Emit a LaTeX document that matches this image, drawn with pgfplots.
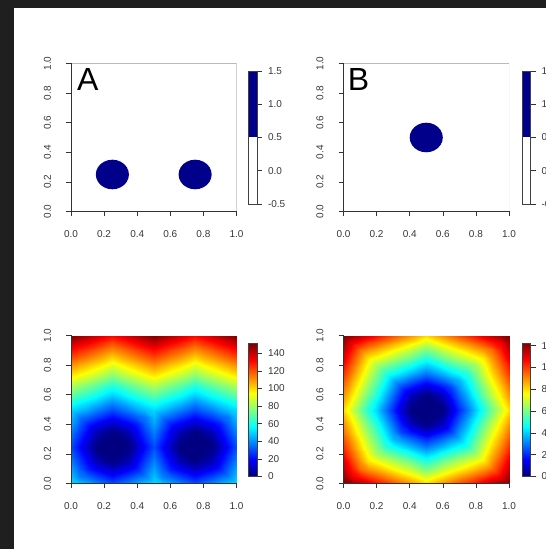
\documentclass[border=0pt]{standalone}
\usepackage{fontspec}
\setmainfont{Liberation Sans}
\usepackage{pgfplots}
\pgfplotsset{compat=1.18}
\definecolor{frame}{RGB}{31,31,31}
\definecolor{patch}{RGB}{0,0,139}
\definecolor{labgray}{RGB}{55,55,55}
\pgfplotsset{
  panel/.style={
    scale only axis, width=165.5pt, height=148pt,
    axis lines*=left, axis line style={-, black!80, line width=0.6pt},
    tick align=outside, major tick length=5pt,
    tick style={black!80, line width=0.6pt},
    tick label style={font=\fontsize{10}{11}\selectfont, text=labgray},
    yticklabel style={rotate=90, anchor=south},
    xticklabel style={anchor=north},
    xticklabel shift=10.5pt, yticklabel shift=11.5pt,
    axis on top,
  },
  unitpanel/.style={panel, xmin=0, xmax=1, ymin=0, ymax=1,
    xtick={0,0.2,0.4,0.6,0.8,1}, ytick={0,0.2,0.4,0.6,0.8,1},
    xticklabels={0.0,0.2,0.4,0.6,0.8,1.0}, yticklabels={0.0,0.2,0.4,0.6,0.8,1.0}},
  gridpanel/.style={panel, xmin=0, xmax=20, ymin=0, ymax=20,
    xtick={0,4,8,12,16,20}, ytick={0,4,8,12,16,20},
    xticklabels={0.0,0.2,0.4,0.6,0.8,1.0}, yticklabels={0.0,0.2,0.4,0.6,0.8,1.0},
    colormap/jet},
  cbar/.style={
    scale only axis, width=9pt, height=133pt,
    xmin=0, xmax=1, xtick=\empty,
    axis line style={black!75, line width=0.5pt},
    ytick pos=right, yticklabel pos=right,
    tick align=outside, major tick length=5pt,
    tick style={black!80, line width=0.6pt},
    tick label style={font=\fontsize{10}{11}\selectfont, text=labgray},
    yticklabel style={anchor=west},
    yticklabel shift=2.5pt,
    axis on top,
  },
}
\begin{document}
\begin{tikzpicture}[x=1pt,y=1pt]
\path[use as bounding box] (0pt,0pt) rectangle (546pt,549pt);
\fill[frame] (0pt,541pt) rectangle (546pt,549pt);
\fill[frame] (0pt,0pt) rectangle (14pt,549pt);

% ---------- Panel A ----------
\begin{axis}[unitpanel, at={(71pt,337.5pt)}, anchor=south west]
\draw[gray!55, line width=0.6pt] (rel axis cs:0,1) -- (rel axis cs:1,1) -- (rel axis cs:1,0);
\addplot[fill=patch, draw=none] coordinates {(0.35,0.25) (0.3466,0.2759) (0.3366,0.3) (0.3207,0.3207) (0.3,0.3366) (0.2759,0.3466) (0.25,0.35) (0.2241,0.3466) (0.2,0.3366) (0.1793,0.3207) (0.1634,0.3) (0.1534,0.2759) (0.15,0.25) (0.1534,0.2241) (0.1634,0.2) (0.1793,0.1793) (0.2,0.1634) (0.2241,0.1534) (0.25,0.15) (0.2759,0.1534) (0.3,0.1634) (0.3207,0.1793) (0.3366,0.2) (0.3466,0.2241)} --cycle;
\addplot[fill=patch, draw=none] coordinates {(0.85,0.25) (0.8466,0.2759) (0.8366,0.3) (0.8207,0.3207) (0.8,0.3366) (0.7759,0.3466) (0.75,0.35) (0.7241,0.3466) (0.7,0.3366) (0.6793,0.3207) (0.6634,0.3) (0.6534,0.2759) (0.65,0.25) (0.6534,0.2241) (0.6634,0.2) (0.6793,0.1793) (0.7,0.1634) (0.7241,0.1534) (0.75,0.15) (0.7759,0.1534) (0.8,0.1634) (0.8207,0.1793) (0.8366,0.2) (0.8466,0.2241)} --cycle;
\node[anchor=base west, inner sep=0pt, font=\fontsize{32}{32}\selectfont] at (rel axis cs:0.036,0.82) {A};
\end{axis}
\begin{axis}[cbar, at={(248pt,345pt)}, anchor=south west, ymin=-0.5, ymax=1.5,
  ytick={-0.5,0,0.5,1,1.5}, yticklabels={-0.5,0.0,0.5,1.0,1.5}]
\addplot[fill=patch, draw=none] coordinates {(0,0.5) (1,0.5) (1,1.5) (0,1.5)} --cycle;
\end{axis}

% ---------- Panel B ----------
\begin{axis}[unitpanel, at={(343.5pt,337.5pt)}, anchor=south west]
\draw[gray!55, line width=0.6pt] (rel axis cs:0,1) -- (rel axis cs:1,1) -- (rel axis cs:1,0);
\addplot[fill=patch, draw=none] coordinates {(0.6,0.5) (0.5966,0.5259) (0.5866,0.55) (0.5707,0.5707) (0.55,0.5866) (0.5259,0.5966) (0.5,0.6) (0.4741,0.5966) (0.45,0.5866) (0.4293,0.5707) (0.4134,0.55) (0.4034,0.5259) (0.4,0.5) (0.4034,0.4741) (0.4134,0.45) (0.4293,0.4293) (0.45,0.4134) (0.4741,0.4034) (0.5,0.4) (0.5259,0.4034) (0.55,0.4134) (0.5707,0.4293) (0.5866,0.45) (0.5966,0.4741)} --cycle;
\node[anchor=base west, inner sep=0pt, font=\fontsize{32}{32}\selectfont] at (rel axis cs:0.025,0.82) {B};
\end{axis}
\begin{axis}[cbar, width=8.5pt, at={(522pt,345pt)}, anchor=south west, ymin=-0.5, ymax=1.5,
  ytick={-0.5,0,0.5,1,1.5}, yticklabels={-0.5,0.0,0.5,1.0,1.5}]
\addplot[fill=patch, draw=none] coordinates {(0,0.5) (1,0.5) (1,1.5) (0,1.5)} --cycle;
\end{axis}

% ---------- Panel C ----------
\begin{axis}[gridpanel, at={(71pt,65.5pt)}, anchor=south west, point meta min=0, point meta max=151]
\addplot[surf, shader=interp, mesh/rows=21, mesh/cols=21, point meta=explicit]
 table[row sep=\\, meta=v] {
i j v\\
0 0 51\\ 1 0 47\\ 2 0 43\\ 3 0 38\\ 4 0 34\\ 5 0 30\\ 6 0 34\\ 7 0 38\\ 8 0 43\\ 9 0 47\\ 10 0 51\\ 11 0 47\\ 12 0 43\\ 13 0 38\\ 14 0 34\\ 15 0 30\\ 16 0 34\\ 17 0 38\\ 18 0 43\\ 19 0 47\\ 20 0 51\\
0 1 47\\ 1 1 37\\ 2 1 33\\ 3 1 28\\ 4 1 24\\ 5 1 20\\ 6 1 24\\ 7 1 28\\ 8 1 33\\ 9 1 37\\ 10 1 47\\ 11 1 37\\ 12 1 33\\ 13 1 28\\ 14 1 24\\ 15 1 20\\ 16 1 24\\ 17 1 28\\ 18 1 33\\ 19 1 37\\ 20 1 47\\
0 2 43\\ 1 2 33\\ 2 2 23\\ 3 2 18\\ 4 2 14\\ 5 2 10\\ 6 2 14\\ 7 2 18\\ 8 2 23\\ 9 2 33\\ 10 2 43\\ 11 2 33\\ 12 2 23\\ 13 2 18\\ 14 2 14\\ 15 2 10\\ 16 2 14\\ 17 2 18\\ 18 2 23\\ 19 2 33\\ 20 2 43\\
0 3 38\\ 1 3 28\\ 2 3 18\\ 3 3 8\\ 4 3 4\\ 5 3 0\\ 6 3 4\\ 7 3 8\\ 8 3 18\\ 9 3 28\\ 10 3 38\\ 11 3 28\\ 12 3 18\\ 13 3 8\\ 14 3 4\\ 15 3 0\\ 16 3 4\\ 17 3 8\\ 18 3 18\\ 19 3 28\\ 20 3 38\\
0 4 34\\ 1 4 24\\ 2 4 14\\ 3 4 4\\ 4 4 0\\ 5 4 0\\ 6 4 0\\ 7 4 4\\ 8 4 14\\ 9 4 24\\ 10 4 34\\ 11 4 24\\ 12 4 14\\ 13 4 4\\ 14 4 0\\ 15 4 0\\ 16 4 0\\ 17 4 4\\ 18 4 14\\ 19 4 24\\ 20 4 34\\
0 5 30\\ 1 5 20\\ 2 5 10\\ 3 5 0\\ 4 5 0\\ 5 5 0\\ 6 5 0\\ 7 5 0\\ 8 5 10\\ 9 5 20\\ 10 5 30\\ 11 5 20\\ 12 5 10\\ 13 5 0\\ 14 5 0\\ 15 5 0\\ 16 5 0\\ 17 5 0\\ 18 5 10\\ 19 5 20\\ 20 5 30\\
0 6 34\\ 1 6 24\\ 2 6 14\\ 3 6 4\\ 4 6 0\\ 5 6 0\\ 6 6 0\\ 7 6 4\\ 8 6 14\\ 9 6 24\\ 10 6 34\\ 11 6 24\\ 12 6 14\\ 13 6 4\\ 14 6 0\\ 15 6 0\\ 16 6 0\\ 17 6 4\\ 18 6 14\\ 19 6 24\\ 20 6 34\\
0 7 38\\ 1 7 28\\ 2 7 18\\ 3 7 8\\ 4 7 4\\ 5 7 0\\ 6 7 4\\ 7 7 8\\ 8 7 18\\ 9 7 28\\ 10 7 38\\ 11 7 28\\ 12 7 18\\ 13 7 8\\ 14 7 4\\ 15 7 0\\ 16 7 4\\ 17 7 8\\ 18 7 18\\ 19 7 28\\ 20 7 38\\
0 8 43\\ 1 8 33\\ 2 8 23\\ 3 8 18\\ 4 8 14\\ 5 8 10\\ 6 8 14\\ 7 8 18\\ 8 8 23\\ 9 8 33\\ 10 8 43\\ 11 8 33\\ 12 8 23\\ 13 8 18\\ 14 8 14\\ 15 8 10\\ 16 8 14\\ 17 8 18\\ 18 8 23\\ 19 8 33\\ 20 8 43\\
0 9 47\\ 1 9 37\\ 2 9 33\\ 3 9 28\\ 4 9 24\\ 5 9 20\\ 6 9 24\\ 7 9 28\\ 8 9 33\\ 9 9 37\\ 10 9 47\\ 11 9 37\\ 12 9 33\\ 13 9 28\\ 14 9 24\\ 15 9 20\\ 16 9 24\\ 17 9 28\\ 18 9 33\\ 19 9 37\\ 20 9 47\\
0 10 51\\ 1 10 47\\ 2 10 43\\ 3 10 38\\ 4 10 34\\ 5 10 30\\ 6 10 34\\ 7 10 38\\ 8 10 43\\ 9 10 47\\ 10 10 51\\ 11 10 47\\ 12 10 43\\ 13 10 38\\ 14 10 34\\ 15 10 30\\ 16 10 34\\ 17 10 38\\ 18 10 43\\ 19 10 47\\ 20 10 51\\
0 11 61\\ 1 11 57\\ 2 11 53\\ 3 11 49\\ 4 11 44\\ 5 11 40\\ 6 11 44\\ 7 11 49\\ 8 11 53\\ 9 11 57\\ 10 11 61\\ 11 11 57\\ 12 11 53\\ 13 11 49\\ 14 11 44\\ 15 11 40\\ 16 11 44\\ 17 11 49\\ 18 11 53\\ 19 11 57\\ 20 11 61\\
0 12 71\\ 1 12 67\\ 2 12 63\\ 3 12 59\\ 4 12 54\\ 5 12 50\\ 6 12 54\\ 7 12 59\\ 8 12 63\\ 9 12 67\\ 10 12 71\\ 11 12 67\\ 12 12 63\\ 13 12 59\\ 14 12 54\\ 15 12 50\\ 16 12 54\\ 17 12 59\\ 18 12 63\\ 19 12 67\\ 20 12 71\\
0 13 81\\ 1 13 77\\ 2 13 73\\ 3 13 69\\ 4 13 64\\ 5 13 60\\ 6 13 64\\ 7 13 69\\ 8 13 73\\ 9 13 77\\ 10 13 81\\ 11 13 77\\ 12 13 73\\ 13 13 69\\ 14 13 64\\ 15 13 60\\ 16 13 64\\ 17 13 69\\ 18 13 73\\ 19 13 77\\ 20 13 81\\
0 14 91\\ 1 14 87\\ 2 14 83\\ 3 14 79\\ 4 14 75\\ 5 14 70\\ 6 14 75\\ 7 14 79\\ 8 14 83\\ 9 14 87\\ 10 14 91\\ 11 14 87\\ 12 14 83\\ 13 14 79\\ 14 14 75\\ 15 14 70\\ 16 14 75\\ 17 14 79\\ 18 14 83\\ 19 14 87\\ 20 14 91\\
0 15 101\\ 1 15 97\\ 2 15 93\\ 3 15 89\\ 4 15 85\\ 5 15 80\\ 6 15 85\\ 7 15 89\\ 8 15 93\\ 9 15 97\\ 10 15 101\\ 11 15 97\\ 12 15 93\\ 13 15 89\\ 14 15 85\\ 15 15 80\\ 16 15 85\\ 17 15 89\\ 18 15 93\\ 19 15 97\\ 20 15 101\\
0 16 111\\ 1 16 107\\ 2 16 103\\ 3 16 99\\ 4 16 95\\ 5 16 90\\ 6 16 95\\ 7 16 99\\ 8 16 103\\ 9 16 107\\ 10 16 111\\ 11 16 107\\ 12 16 103\\ 13 16 99\\ 14 16 95\\ 15 16 90\\ 16 16 95\\ 17 16 99\\ 18 16 103\\ 19 16 107\\ 20 16 111\\
0 17 121\\ 1 17 117\\ 2 17 113\\ 3 17 109\\ 4 17 105\\ 5 17 100\\ 6 17 105\\ 7 17 109\\ 8 17 113\\ 9 17 117\\ 10 17 121\\ 11 17 117\\ 12 17 113\\ 13 17 109\\ 14 17 105\\ 15 17 100\\ 16 17 105\\ 17 17 109\\ 18 17 113\\ 19 17 117\\ 20 17 121\\
0 18 131\\ 1 18 127\\ 2 18 123\\ 3 18 119\\ 4 18 115\\ 5 18 111\\ 6 18 115\\ 7 18 119\\ 8 18 123\\ 9 18 127\\ 10 18 131\\ 11 18 127\\ 12 18 123\\ 13 18 119\\ 14 18 115\\ 15 18 111\\ 16 18 115\\ 17 18 119\\ 18 18 123\\ 19 18 127\\ 20 18 131\\
0 19 141\\ 1 19 137\\ 2 19 133\\ 3 19 129\\ 4 19 125\\ 5 19 121\\ 6 19 125\\ 7 19 129\\ 8 19 133\\ 9 19 137\\ 10 19 141\\ 11 19 137\\ 12 19 133\\ 13 19 129\\ 14 19 125\\ 15 19 121\\ 16 19 125\\ 17 19 129\\ 18 19 133\\ 19 19 137\\ 20 19 141\\
0 20 151\\ 1 20 147\\ 2 20 143\\ 3 20 139\\ 4 20 135\\ 5 20 131\\ 6 20 135\\ 7 20 139\\ 8 20 143\\ 9 20 147\\ 10 20 151\\ 11 20 147\\ 12 20 143\\ 13 20 139\\ 14 20 135\\ 15 20 131\\ 16 20 135\\ 17 20 139\\ 18 20 143\\ 19 20 147\\ 20 20 151\\
};
\end{axis}
\begin{axis}[cbar, at={(248pt,72.5pt)}, anchor=south west, ymin=0, ymax=151,
  colormap/jet, point meta min=0, point meta max=151,
  ytick={0,20,40,60,80,100,120,140}, yticklabels={0,20,40,60,80,100,120,140}]
\addplot[surf, shader=interp, mesh/rows=6, mesh/cols=2, point meta=explicit]
 table[row sep=\\, meta=v] {x y v\\ 0 0 0\\ 1 0 0\\ 0 30 30\\ 1 30 30\\ 0 60 60\\ 1 60 60\\ 0 90 90\\ 1 90 90\\ 0 120 120\\ 1 120 120\\ 0 151 151\\ 1 151 151\\};
\end{axis}

% ---------- Panel D ----------
\begin{axis}[gridpanel, at={(343.5pt,65.5pt)}, anchor=south west, point meta min=0, point meta max=122]
\addplot[surf, shader=interp, mesh/rows=21, mesh/cols=21, point meta=explicit]
 table[row sep=\\, meta=v] {
i j v\\
0 0 122\\ 1 0 118\\ 2 0 114\\ 3 0 110\\ 4 0 105\\ 5 0 101\\ 6 0 97\\ 7 0 93\\ 8 0 89\\ 9 0 85\\ 10 0 80\\ 11 0 85\\ 12 0 89\\ 13 0 93\\ 14 0 97\\ 15 0 101\\ 16 0 105\\ 17 0 110\\ 18 0 114\\ 19 0 118\\ 20 0 122\\
0 1 118\\ 1 1 108\\ 2 1 104\\ 3 1 99\\ 4 1 95\\ 5 1 91\\ 6 1 87\\ 7 1 83\\ 8 1 79\\ 9 1 75\\ 10 1 70\\ 11 1 75\\ 12 1 79\\ 13 1 83\\ 14 1 87\\ 15 1 91\\ 16 1 95\\ 17 1 99\\ 18 1 104\\ 19 1 108\\ 20 1 118\\
0 2 114\\ 1 2 104\\ 2 2 94\\ 3 2 89\\ 4 2 85\\ 5 2 81\\ 6 2 77\\ 7 2 73\\ 8 2 69\\ 9 2 64\\ 10 2 60\\ 11 2 64\\ 12 2 69\\ 13 2 73\\ 14 2 77\\ 15 2 81\\ 16 2 85\\ 17 2 89\\ 18 2 94\\ 19 2 104\\ 20 2 114\\
0 3 110\\ 1 3 99\\ 2 3 89\\ 3 3 79\\ 4 3 75\\ 5 3 71\\ 6 3 67\\ 7 3 63\\ 8 3 59\\ 9 3 54\\ 10 3 50\\ 11 3 54\\ 12 3 59\\ 13 3 63\\ 14 3 67\\ 15 3 71\\ 16 3 75\\ 17 3 79\\ 18 3 89\\ 19 3 99\\ 20 3 110\\
0 4 105\\ 1 4 95\\ 2 4 85\\ 3 4 75\\ 4 4 65\\ 5 4 61\\ 6 4 57\\ 7 4 53\\ 8 4 49\\ 9 4 44\\ 10 4 40\\ 11 4 44\\ 12 4 49\\ 13 4 53\\ 14 4 57\\ 15 4 61\\ 16 4 65\\ 17 4 75\\ 18 4 85\\ 19 4 95\\ 20 4 105\\
0 5 101\\ 1 5 91\\ 2 5 81\\ 3 5 71\\ 4 5 61\\ 5 5 51\\ 6 5 47\\ 7 5 43\\ 8 5 38\\ 9 5 34\\ 10 5 30\\ 11 5 34\\ 12 5 38\\ 13 5 43\\ 14 5 47\\ 15 5 51\\ 16 5 61\\ 17 5 71\\ 18 5 81\\ 19 5 91\\ 20 5 101\\
0 6 97\\ 1 6 87\\ 2 6 77\\ 3 6 67\\ 4 6 57\\ 5 6 47\\ 6 6 37\\ 7 6 33\\ 8 6 28\\ 9 6 24\\ 10 6 20\\ 11 6 24\\ 12 6 28\\ 13 6 33\\ 14 6 37\\ 15 6 47\\ 16 6 57\\ 17 6 67\\ 18 6 77\\ 19 6 87\\ 20 6 97\\
0 7 93\\ 1 7 83\\ 2 7 73\\ 3 7 63\\ 4 7 53\\ 5 7 43\\ 6 7 33\\ 7 7 23\\ 8 7 18\\ 9 7 14\\ 10 7 10\\ 11 7 14\\ 12 7 18\\ 13 7 23\\ 14 7 33\\ 15 7 43\\ 16 7 53\\ 17 7 63\\ 18 7 73\\ 19 7 83\\ 20 7 93\\
0 8 89\\ 1 8 79\\ 2 8 69\\ 3 8 59\\ 4 8 49\\ 5 8 38\\ 6 8 28\\ 7 8 18\\ 8 8 8\\ 9 8 4\\ 10 8 0\\ 11 8 4\\ 12 8 8\\ 13 8 18\\ 14 8 28\\ 15 8 38\\ 16 8 49\\ 17 8 59\\ 18 8 69\\ 19 8 79\\ 20 8 89\\
0 9 85\\ 1 9 75\\ 2 9 64\\ 3 9 54\\ 4 9 44\\ 5 9 34\\ 6 9 24\\ 7 9 14\\ 8 9 4\\ 9 9 0\\ 10 9 0\\ 11 9 0\\ 12 9 4\\ 13 9 14\\ 14 9 24\\ 15 9 34\\ 16 9 44\\ 17 9 54\\ 18 9 64\\ 19 9 75\\ 20 9 85\\
0 10 80\\ 1 10 70\\ 2 10 60\\ 3 10 50\\ 4 10 40\\ 5 10 30\\ 6 10 20\\ 7 10 10\\ 8 10 0\\ 9 10 0\\ 10 10 0\\ 11 10 0\\ 12 10 0\\ 13 10 10\\ 14 10 20\\ 15 10 30\\ 16 10 40\\ 17 10 50\\ 18 10 60\\ 19 10 70\\ 20 10 80\\
0 11 85\\ 1 11 75\\ 2 11 64\\ 3 11 54\\ 4 11 44\\ 5 11 34\\ 6 11 24\\ 7 11 14\\ 8 11 4\\ 9 11 0\\ 10 11 0\\ 11 11 0\\ 12 11 4\\ 13 11 14\\ 14 11 24\\ 15 11 34\\ 16 11 44\\ 17 11 54\\ 18 11 64\\ 19 11 75\\ 20 11 85\\
0 12 89\\ 1 12 79\\ 2 12 69\\ 3 12 59\\ 4 12 49\\ 5 12 38\\ 6 12 28\\ 7 12 18\\ 8 12 8\\ 9 12 4\\ 10 12 0\\ 11 12 4\\ 12 12 8\\ 13 12 18\\ 14 12 28\\ 15 12 38\\ 16 12 49\\ 17 12 59\\ 18 12 69\\ 19 12 79\\ 20 12 89\\
0 13 93\\ 1 13 83\\ 2 13 73\\ 3 13 63\\ 4 13 53\\ 5 13 43\\ 6 13 33\\ 7 13 23\\ 8 13 18\\ 9 13 14\\ 10 13 10\\ 11 13 14\\ 12 13 18\\ 13 13 23\\ 14 13 33\\ 15 13 43\\ 16 13 53\\ 17 13 63\\ 18 13 73\\ 19 13 83\\ 20 13 93\\
0 14 97\\ 1 14 87\\ 2 14 77\\ 3 14 67\\ 4 14 57\\ 5 14 47\\ 6 14 37\\ 7 14 33\\ 8 14 28\\ 9 14 24\\ 10 14 20\\ 11 14 24\\ 12 14 28\\ 13 14 33\\ 14 14 37\\ 15 14 47\\ 16 14 57\\ 17 14 67\\ 18 14 77\\ 19 14 87\\ 20 14 97\\
0 15 101\\ 1 15 91\\ 2 15 81\\ 3 15 71\\ 4 15 61\\ 5 15 51\\ 6 15 47\\ 7 15 43\\ 8 15 38\\ 9 15 34\\ 10 15 30\\ 11 15 34\\ 12 15 38\\ 13 15 43\\ 14 15 47\\ 15 15 51\\ 16 15 61\\ 17 15 71\\ 18 15 81\\ 19 15 91\\ 20 15 101\\
0 16 105\\ 1 16 95\\ 2 16 85\\ 3 16 75\\ 4 16 65\\ 5 16 61\\ 6 16 57\\ 7 16 53\\ 8 16 49\\ 9 16 44\\ 10 16 40\\ 11 16 44\\ 12 16 49\\ 13 16 53\\ 14 16 57\\ 15 16 61\\ 16 16 65\\ 17 16 75\\ 18 16 85\\ 19 16 95\\ 20 16 105\\
0 17 110\\ 1 17 99\\ 2 17 89\\ 3 17 79\\ 4 17 75\\ 5 17 71\\ 6 17 67\\ 7 17 63\\ 8 17 59\\ 9 17 54\\ 10 17 50\\ 11 17 54\\ 12 17 59\\ 13 17 63\\ 14 17 67\\ 15 17 71\\ 16 17 75\\ 17 17 79\\ 18 17 89\\ 19 17 99\\ 20 17 110\\
0 18 114\\ 1 18 104\\ 2 18 94\\ 3 18 89\\ 4 18 85\\ 5 18 81\\ 6 18 77\\ 7 18 73\\ 8 18 69\\ 9 18 64\\ 10 18 60\\ 11 18 64\\ 12 18 69\\ 13 18 73\\ 14 18 77\\ 15 18 81\\ 16 18 85\\ 17 18 89\\ 18 18 94\\ 19 18 104\\ 20 18 114\\
0 19 118\\ 1 19 108\\ 2 19 104\\ 3 19 99\\ 4 19 95\\ 5 19 91\\ 6 19 87\\ 7 19 83\\ 8 19 79\\ 9 19 75\\ 10 19 70\\ 11 19 75\\ 12 19 79\\ 13 19 83\\ 14 19 87\\ 15 19 91\\ 16 19 95\\ 17 19 99\\ 18 19 104\\ 19 19 108\\ 20 19 118\\
0 20 122\\ 1 20 118\\ 2 20 114\\ 3 20 110\\ 4 20 105\\ 5 20 101\\ 6 20 97\\ 7 20 93\\ 8 20 89\\ 9 20 85\\ 10 20 80\\ 11 20 85\\ 12 20 89\\ 13 20 93\\ 14 20 97\\ 15 20 101\\ 16 20 105\\ 17 20 110\\ 18 20 114\\ 19 20 118\\ 20 20 122\\
};
\end{axis}
\begin{axis}[cbar, width=8.5pt, at={(522pt,72.5pt)}, anchor=south west, ymin=0, ymax=122,
  colormap/jet, point meta min=0, point meta max=122,
  ytick={0,20,40,60,80,100,120}, yticklabels={0,20,40,60,80,100,120}]
\addplot[surf, shader=interp, mesh/rows=6, mesh/cols=2, point meta=explicit]
 table[row sep=\\, meta=v] {x y v\\ 0 0 0\\ 1 0 0\\ 0 25 25\\ 1 25 25\\ 0 50 50\\ 1 50 50\\ 0 75 75\\ 1 75 75\\ 0 100 100\\ 1 100 100\\ 0 122 122\\ 1 122 122\\};
\end{axis}
\end{tikzpicture}
\end{document}
